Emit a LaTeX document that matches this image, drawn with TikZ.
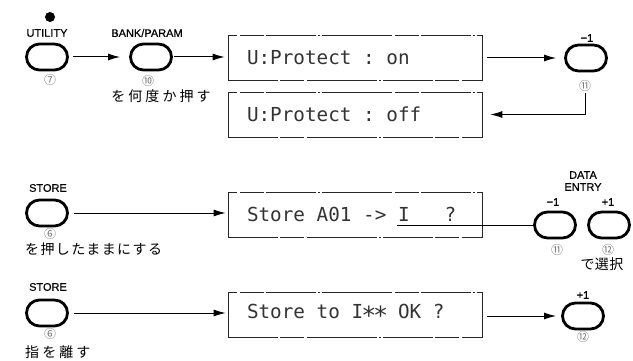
\documentclass[tikz,border=0pt]{standalone}
\usepackage{fontspec}
\setmainfont{Liberation Sans}
\newfontfamily\labelfont[FakeBold=0.6]{Liberation Sans}
\newfontfamily\lcdfont{DejaVu Sans Mono}
\newfontfamily\jpfont[LetterSpace=10]{Noto Sans CJK JP}
\newfontfamily\jpwide[LetterSpace=22]{Noto Sans CJK JP}
\newfontfamily\jpnarrow[LetterSpace=3]{Noto Sans CJK JP}
\newfontfamily\numfont{Noto Sans CJK JP}
\usetikzlibrary{arrows.meta}
% one character cell of the display
\newcommand\lcdcell{\hspace*{0.602em}}
\newcommand\lcdstar{\makebox[0.602em]{\raisebox{-0.32em}{\fontsize{25}{25}\selectfont *}}}

\begin{document}
\begin{tikzpicture}[x=1pt,y=-1pt,
  key/.style={draw, line width=2.8pt, rounded corners=13pt,
    minimum width=41pt, minimum height=26pt, inner sep=0pt},
  lcd/.style={draw=black!85, line width=0.6pt,
    dash pattern=on 50pt off 2pt on 24pt off 3pt on 70pt off 2pt on 2pt off 2pt,
    text width=216pt, inner xsep=19pt, inner ysep=0pt, minimum height=45pt,
    align=left, text=black!80, font=\lcdfont\fontsize{19.3}{20}\selectfont},
  keylabel/.style={inner sep=0pt, font=\labelfont\fontsize{11}{12}\selectfont},
  num/.style={inner sep=0pt, text=black!55, font=\numfont\fontsize{12}{12}\selectfont},
  jp/.style={inner sep=0pt, font=\jpfont\fontsize{14}{14}\selectfont},
  flow/.style={-{Latex[length=12pt,width=7pt]}, line width=1pt},
  wire/.style={line width=1pt},
]
\useasboundingbox (0,0) rectangle (633,361);

% --- UTILITY / BANK/PARAM / protect toggle ---
\fill (50,17) circle (5pt);
\node[keylabel] (lutil) at (47,33) {UTILITY};
\node[key] (b1) at (47,57) {};
\node[num] (n7) at (50,80) {⑦};

\node[keylabel] (lbank) at (147,33) {BANK/PARAM};
\node[key] (b2) at (151,57) {};
\node[num] (n10) at (148,81) {⑩};
\node[jp, font=\jpwide\fontsize{14}{14}\selectfont] (jrep) at (161,96) {を何度か押す};

\node[lcd] (d1) at (355,57.5) {U:Protect\lcdcell:\lcdcell on};
\node[lcd] (d2) at (355,114.5) {U:Protect\lcdcell:\lcdcell off};

\node[keylabel] (lm1a) at (587,38) {−1};
\node[key] (b3) at (586,58) {};
\node[num] (n11a) at (585,86) {⑪};

\draw[flow, shorten <=4pt, shorten >=9pt] (b1.east) -- (b2.west);
\draw[flow, shorten <=1pt, shorten >=3pt] (b2.east) -- (b2.east -| d1.west);
\draw[flow, shorten <=5pt, shorten >=8pt] (d1.east |- b3) -- (b3.west);
\draw[flow, shorten <=1pt, shorten >=8pt] (n11a.south) |- (d2.east);

% --- STORE held: choose destination ---
\node[keylabel] (lst1) at (48,188) {STORE};
\node[key] (b4) at (47,213) {};
\node[num] (n6a) at (50,234) {⑥};
\node[jp, anchor=west] (jhold) at (25,249) {を押したままにする};

\node[lcd] (d3) at (355,214.5) {Store\lcdcell A01\lcdcell ->\lcdcell I\lcdcell\lcdcell\lcdcell ?};
\coordinate (cur) at (397,225);

\node[keylabel] (ldata) at (583,175) {DATA};
\node[keylabel] (lentry) at (583,187) {ENTRY};
\node[keylabel] (lm1b) at (553,202) {−1};
\node[keylabel] (lp1b) at (608,202) {+1};
\node[key] (b6) at (555,225) {};
\node[key] (b7) at (609,225) {};
\node[num] (n11b) at (557,250) {⑪};
\node[num] (n12b) at (608,250) {⑫};
\node[jp, font=\jpnarrow\fontsize{14}{14}\selectfont] (jsel) at (602,264) {で選択};

\draw[flow, shorten <=5pt, shorten >=2pt] (b4.east) -- (b4.east -| d3.west);
\draw[wire] (cur) -- (cur -| b6.west);

% --- STORE released: confirm ---
\node[keylabel] (lst2) at (48,287) {STORE};
\node[key] (b5) at (47,313) {};
\node[num] (n6b) at (50,334) {⑥};
\node[jp, anchor=west, font=\jpwide\fontsize{14}{14}\selectfont] (jrel) at (25,352) {指を離す};

\node[lcd] (d4) at (355,314.5) {Store\lcdcell to\lcdcell I\lcdstar\lcdstar\lcdcell OK\lcdcell ?};

\node[keylabel] (lp1c) at (583,295) {+1};
\node[key] (b8) at (583,316) {};
\node[num] (n12c) at (583,337) {⑫};

\draw[flow, shorten <=5pt, shorten >=2pt] (b5.east) -- (b5.east -| d4.west);
\draw[flow, shorten <=5pt, shorten >=5pt] (d4.east |- b8) -- (b8.west);
\end{tikzpicture}
\end{document}
